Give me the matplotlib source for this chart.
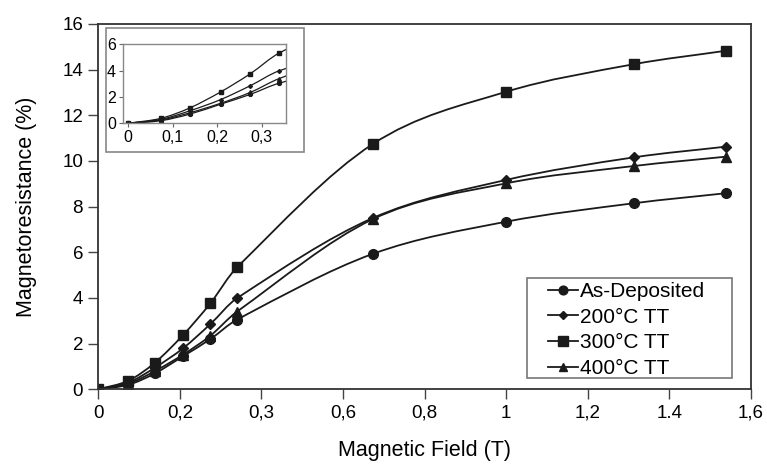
"""Magnetoresistance vs magnetic field, with low-field inset."""
import matplotlib
matplotlib.use("Agg")
import matplotlib.pyplot as plt
from matplotlib.path import Path
from matplotlib.patches import PathPatch, Rectangle

plt.rcParams["font.family"] = ["Liberation Sans", "DejaVu Sans"]

# data
field = [0, 0.074, 0.139, 0.208, 0.275, 0.34, 0.673, 1.0, 1.314, 1.54]
as_dep = [0, 0.2, 0.7, 1.45, 2.2, 3.05, 5.93, 7.34, 8.15, 8.59]
tt200 = [0, 0.3, 0.95, 1.8, 2.86, 3.99, 7.5, 9.17, 10.16, 10.63]
tt300 = [0, 0.38, 1.17, 2.38, 3.77, 5.34, 10.74, 13.03, 14.24, 14.83]
tt400 = [0, 0.25, 0.8, 1.52, 2.35, 3.4, 7.45, 9.02, 9.78, 10.19]

series = [("As-Deposited", as_dep, "o", 7),
          ("200°C TT", tt200, "D", 5),
          ("300°C TT", tt300, "s", 7.5),
          ("400°C TT", tt400, "^", 7)]

xticks = [0, 0.2, 0.4, 0.6, 0.8, 1.0, 1.2, 1.4, 1.6]
xtick_labels = ["0", "0,2", "0,3", "0,6", "0,8", "1", "1,2", "1.4", "1,6"]
yticks = [0, 2, 4, 6, 8, 10, 12, 14, 16]
in_xticks = [0, 0.1, 0.2, 0.3]
in_xtick_labels = ["0", "0,1", "0,2", "0,3"]
in_yticks = [0, 2, 4, 6]

INK = "#1a1a1a"
W, H = 767, 467


def smooth(x, y):
    # smoothed line (cubic hermite through the points), like the spreadsheet style
    n = len(x)
    m = []
    for i in range(n):
        a, b = max(i - 1, 0), min(i + 1, n - 1)
        m.append((y[b] - y[a]) / (x[b] - x[a]))
    verts, codes = [(x[0], y[0])], [Path.MOVETO]
    for i in range(n - 1):
        h = (x[i + 1] - x[i]) / 3
        verts += [(x[i] + h, y[i] + m[i] * h),
                  (x[i + 1] - h, y[i + 1] - m[i + 1] * h),
                  (x[i + 1], y[i + 1])]
        codes += [Path.CURVE4] * 3
    return Path(verts, codes)


fig = plt.figure(figsize=(W / 100, H / 100), dpi=100)
ax = fig.add_axes([98.3 / W, 1 - 389.3 / H, 652.4 / W, 365.3 / H])

for name, vals, mk, ms in series:
    ax.add_patch(PathPatch(smooth(field, vals), fill=False, edgecolor=INK, lw=1.3))
    ax.plot(field, vals, ls="none", marker=mk, ms=ms, color=INK)

ax.set_xlim(0, 1.6)
ax.set_ylim(0, 16)
ax.set_xticks(xticks)
ax.set_xticklabels(xtick_labels)
ax.set_yticks(yticks)
ax.tick_params(labelsize=13.5, length=7, pad=4, width=1, color="#444", direction="out")
for sp in ax.spines.values():
    sp.set_color("#333")
    sp.set_linewidth(1.3)
ax.set_xlabel("Magnetic Field (T)", fontsize=15.5, labelpad=13)
ax.set_ylabel("Magnetoresistance (%)", fontsize=15.5, labelpad=18)

# legend without its own frame; box drawn separately for the wider left margin
handles = [plt.Line2D([0], [0], color=INK, lw=1.3, marker=mk, ms=ms * 0.9, label=name)
           for name, _, mk, ms in series]
ax.legend(handles=handles, loc="center left", bbox_to_anchor=(0.69, 0.162),
          fontsize=15, frameon=False, handlelength=1.4, handletextpad=0.1,
          labelspacing=0.32, borderpad=0, borderaxespad=0)
ax.add_patch(Rectangle((0.657, 0.031), 0.314, 0.274, transform=ax.transAxes,
                       fill=False, edgecolor="#777", lw=1.2, zorder=4))

# inset: outer chart-area frame then the plot itself
fig.add_artist(Rectangle((106 / W, 1 - 151.7 / H), 198 / W, 124 / H,
                         transform=fig.transFigure, facecolor="white",
                         edgecolor="#888", lw=1.2, zorder=2))
ax_in = fig.add_axes([122.7 / W, 1 - 123.3 / H, 163.3 / W, 79 / H])
ax_in.set_zorder(3)
for name, vals, mk, ms in series:
    ax_in.add_patch(PathPatch(smooth(field, vals), fill=False, edgecolor=INK, lw=0.9))
    ax_in.plot(field, vals, ls="none", marker=mk, ms=ms * 0.4, color=INK)
ax_in.set_xlim(-0.012, 0.355)
ax_in.set_ylim(0, 6)
ax_in.set_xticks(in_xticks)
ax_in.set_xticklabels(in_xtick_labels)
ax_in.set_yticks(in_yticks)
ax_in.tick_params(labelsize=11.5, length=3, pad=2, color="#666")
for sp in ax_in.spines.values():
    sp.set_color("#888")
    sp.set_linewidth(1.0)

fig.savefig("out.png", dpi=100)
